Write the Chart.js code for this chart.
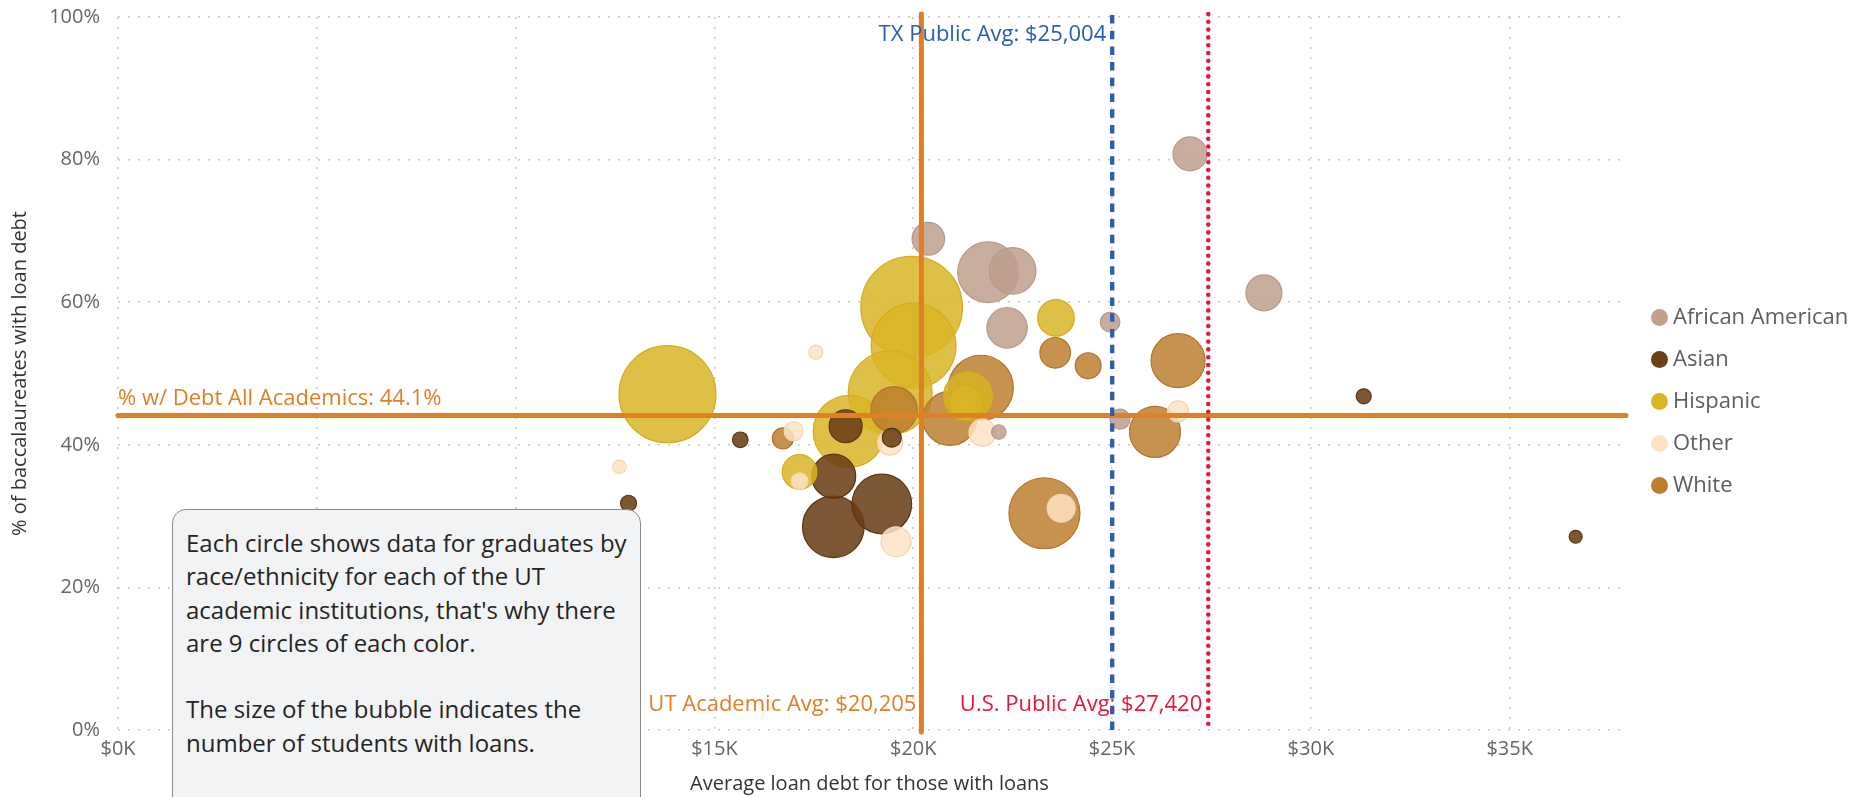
<!DOCTYPE html>
<html>
<head>
<meta charset="utf-8">
<title>Student loan debt by race/ethnicity</title>
<script src="https://cdn.jsdelivr.net/npm/chart.js@4.4.1/dist/chart.umd.min.js"></script>
<style>
  html, body { margin: 0; padding: 0; background: #fff; overflow: hidden; }
  #wrap { position: relative; width: 1871px; height: 797px; overflow: hidden; font-family: 'Open Sans', sans-serif; }
  /* canvas is taller than the page: the bubble controller reserves its biggest radius on top */
  #chart { position: absolute; left: 0; top: -40px; }
  #legend { position: absolute; left: 1651px; top: 294px; font-size: 22px; color: #605E5C; }
  #legend div { height: 42px; line-height: 42px; white-space: nowrap; }
  #legend span.dot { display: inline-block; width: 17px; height: 17px; border-radius: 50%; margin-right: 5px; vertical-align: -2px; }
  #note {
    position: absolute; left: 172px; top: 509px; width: 469px; height: 320px;
    box-sizing: border-box; padding: 16px 0 0 13px;
    background: #F2F3F5; border: 1.5px solid #8A8A8A; border-radius: 14px;
    font-size: 24px; line-height: 33.3px; color: #252423; white-space: nowrap;
  }
</style>
</head>
<body>
<div id="wrap">
  <canvas id="chart" width="1871" height="837"></canvas>
  <div id="legend"></div>
  <div id="note">Each circle shows data for graduates by<br>race/ethnicity for each of the UT<br>academic institutions, that's why there<br>are 9 circles of each color.<br><br>The size of the bubble indicates the<br>number of students with loans.</div>
</div>
<script>
// Groups and colours
const groups = ['African American', 'Asian', 'Hispanic', 'Other', 'White'];
const groupColors = ['#C4A08C', '#6B3F17', '#D9B526', '#FDE3C4', '#BD7F2E'];
const groupFills = ['rgba(190,158,140,0.85)', 'rgba(107,63,23,0.88)', 'rgba(217,181,38,0.85)', 'rgba(253,227,196,0.85)', 'rgba(189,127,46,0.85)'];
const groupBorders = ['#B8998A', '#5A3412', '#D2AC1E', '#F3D6B2', '#B07428'];

// Average loan debt ($), % with debt, number of students with loans
const aaDebt = [26960, 20380, 21880, 22500, 22360, 24950, 28820, 25200, 22150];
const aaPct = [80.8, 68.9, 64.2, 64.4, 56.4, 57.2, 61.3, 43.6, 41.8];
const aaLoans = [590, 542, 1873, 1108, 833, 196, 661, 204, 106];

const asianDebt = [31330, 36660, 12840, 15650, 18300, 19460, 18000, 17990, 19210];
const asianPct = [46.8, 27.1, 31.8, 40.7, 42.6, 41.0, 35.6, 28.5, 31.7];
const asianLoans = [115, 86, 131, 124, 556, 184, 988, 1936, 1812];

const hispDebt = [13820, 19960, 20010, 19420, 18390, 23590, 21380, 21320, 17140];
const hispPct = [47.1, 59.3, 53.9, 47.3, 41.9, 57.8, 46.8, 45.9, 36.2];
const hispLoans = [4800, 5267, 3686, 3600, 2645, 683, 1225, 625, 611];

const otherDebt = [17550, 12610, 16990, 17140, 19570, 19420, 21740, 23720, 26660];
const otherPct = [53.0, 36.9, 41.9, 34.9, 26.4, 40.3, 41.7, 31.1, 44.7];
const otherLoans = [100, 92, 184, 141, 459, 319, 372, 400, 225];

const whiteDebt = [23570, 24400, 26660, 26080, 23300, 21700, 20920, 19520, 16720];
const whitePct = [52.9, 51.1, 51.8, 41.8, 30.4, 48.0, 43.7, 44.9, 40.9];
const whiteLoans = [478, 340, 1488, 1327, 2572, 2156, 1488, 1098, 225];

// Reference values
const utAcademicAvg = 20205;
const txPublicAvg = 25004;
const usPublicAvg = 27420;
const pctDebtAll = 44.1;

// Axis ticks
const xTicks = [0, 5000, 10000, 15000, 20000, 25000, 30000, 35000];
const xMax = 37800;
const yTicks = [0, 20, 40, 60, 80, 100];

const BUBBLE_SCALE = 0.7;
const debtByGroup = [aaDebt, asianDebt, hispDebt, otherDebt, whiteDebt];
const pctByGroup = [aaPct, asianPct, hispPct, otherPct, whitePct];
const loansByGroup = [aaLoans, asianLoans, hispLoans, otherLoans, whiteLoans];

const datasets = groups.map((g, i) => ({
    label: g,
    data: debtByGroup[i].map((x, j) => ({ x: x, y: pctByGroup[i][j], r: Math.sqrt(loansByGroup[i][j]) * BUBBLE_SCALE })),
    backgroundColor: groupFills[i],
    borderColor: groupBorders[i],
    borderWidth: 1.2
}));

const fmtMoney = v => '$' + v.toLocaleString('en-US');

// Power BI draws the bigger bubbles first so small ones stay visible
const sizeOrder = {
    id: 'sizeOrder',
    beforeDatasetsDraw(chart) {
        const els = [];
        chart.getSortedVisibleDatasetMetas().forEach(meta => meta.data.forEach(el => els.push(el)));
        els.sort((a, b) => b.options.radius - a.options.radius);
        els.forEach(el => el.draw(chart.ctx, chart.chartArea));
        return false;
    }
};

// Average lines and their labels
const refLines = {
    id: 'refLines',
    afterDraw(chart) {
        const { ctx, chartArea: area, scales: { x, y } } = chart;
        ctx.save();

        const hy = y.getPixelForValue(pctDebtAll);
        ctx.strokeStyle = '#E07F24';
        ctx.lineWidth = 5;
        ctx.lineCap = 'round';
        ctx.beginPath();
        ctx.moveTo(area.left, hy);
        ctx.lineTo(area.right + 5, hy);
        ctx.stroke();

        const ux = x.getPixelForValue(utAcademicAvg);
        ctx.beginPath();
        ctx.moveTo(ux, area.top - 3);
        ctx.lineTo(ux, area.bottom + 2);
        ctx.stroke();

        const tx = x.getPixelForValue(txPublicAvg);
        ctx.strokeStyle = '#2B5DB5';
        ctx.lineWidth = 4.3;
        ctx.lineCap = 'butt';
        ctx.setLineDash([8.5, 7.2]);
        ctx.beginPath();
        ctx.moveTo(tx, area.top - 2);
        ctx.lineTo(tx, area.bottom);
        ctx.stroke();

        const sx = x.getPixelForValue(usPublicAvg);
        ctx.strokeStyle = '#E8173F';
        ctx.lineWidth = 4.6;
        ctx.lineCap = 'round';
        ctx.setLineDash([0, 7.8]);
        ctx.beginPath();
        ctx.moveTo(sx, area.top - 3);
        ctx.lineTo(sx, area.bottom);
        ctx.stroke();
        ctx.setLineDash([]);

        ctx.font = '22px "Open Sans"';
        ctx.textBaseline = 'middle';
        ctx.textAlign = 'right';
        ctx.fillStyle = '#2B5DB5';
        ctx.fillText('TX Public Avg: ' + fmtMoney(txPublicAvg), tx - 6, area.top + 18);
        ctx.fillStyle = '#E07F24';
        ctx.fillText('UT Academic Avg: ' + fmtMoney(utAcademicAvg), ux - 5, area.bottom - 25);
        ctx.fillStyle = '#E8173F';
        ctx.fillText('U.S. Public Avg: ' + fmtMoney(usPublicAvg), sx - 6, area.bottom - 25);
        ctx.textAlign = 'left';
        ctx.fillStyle = '#E07F24';
        ctx.fillText('% w/ Debt All Academics: ' + pctDebtAll + '%', area.left, hy - 17);
        ctx.restore();
    }
};

const chart = new Chart(document.getElementById('chart'), {
    type: 'bubble',
    data: { datasets: datasets },
    options: {
        responsive: false,
        animation: false,
        layout: { padding: { left: 0, top: 57, right: 250, bottom: 0 } },
        plugins: {
            legend: { display: false },
            tooltip: { enabled: false }
        },
        scales: {
            x: {
                type: 'linear',
                min: 0,
                max: xMax,
                afterFit: s => { s.height = 67; },
                afterBuildTicks: s => { s.ticks = xTicks.map(v => ({ value: v })); },
                grid: { color: '#C8C8C8', lineWidth: 1.5, drawTicks: false },
                border: { display: false, dash: [2, 8] },
                ticks: {
                    autoSkip: false,
                    maxRotation: 0,
                    padding: 7,
                    color: '#666',
                    font: { family: 'Open Sans', size: 20 },
                    callback: v => '$' + (v / 1000) + 'K'
                },
                title: {
                    display: true,
                    text: 'Average loan debt for those with loans',
                    color: '#333',
                    font: { family: 'Open Sans', size: 20 },
                    padding: { top: 0, bottom: 1 }
                }
            },
            y: {
                min: yTicks[0],
                max: yTicks[yTicks.length - 1],
                afterFit: s => { s.width = 118; },
                afterBuildTicks: s => { s.ticks = yTicks.map(v => ({ value: v })); },
                grid: { color: '#C8C8C8', lineWidth: 1.5, drawTicks: false },
                border: { display: false, dash: [2, 8] },
                ticks: {
                    padding: 18,
                    color: '#666',
                    font: { family: 'Open Sans', size: 20 },
                    callback: v => v + '%'
                },
                title: {
                    display: true,
                    text: '% of baccalaureates with loan debt',
                    color: '#333',
                    font: { family: 'Open Sans', size: 20 },
                    padding: { top: 8, bottom: 0 }
                }
            }
        }
    },
    plugins: [sizeOrder, refLines]
});

// HTML legend built from the chart's datasets
const legendEl = document.getElementById('legend');
chart.data.datasets.forEach((ds, i) => {
    const row = document.createElement('div');
    row.innerHTML = '<span class="dot" style="background:' + groupColors[i] + '"></span>' + ds.label;
    legendEl.appendChild(row);
});
</script>
</body>
</html>
